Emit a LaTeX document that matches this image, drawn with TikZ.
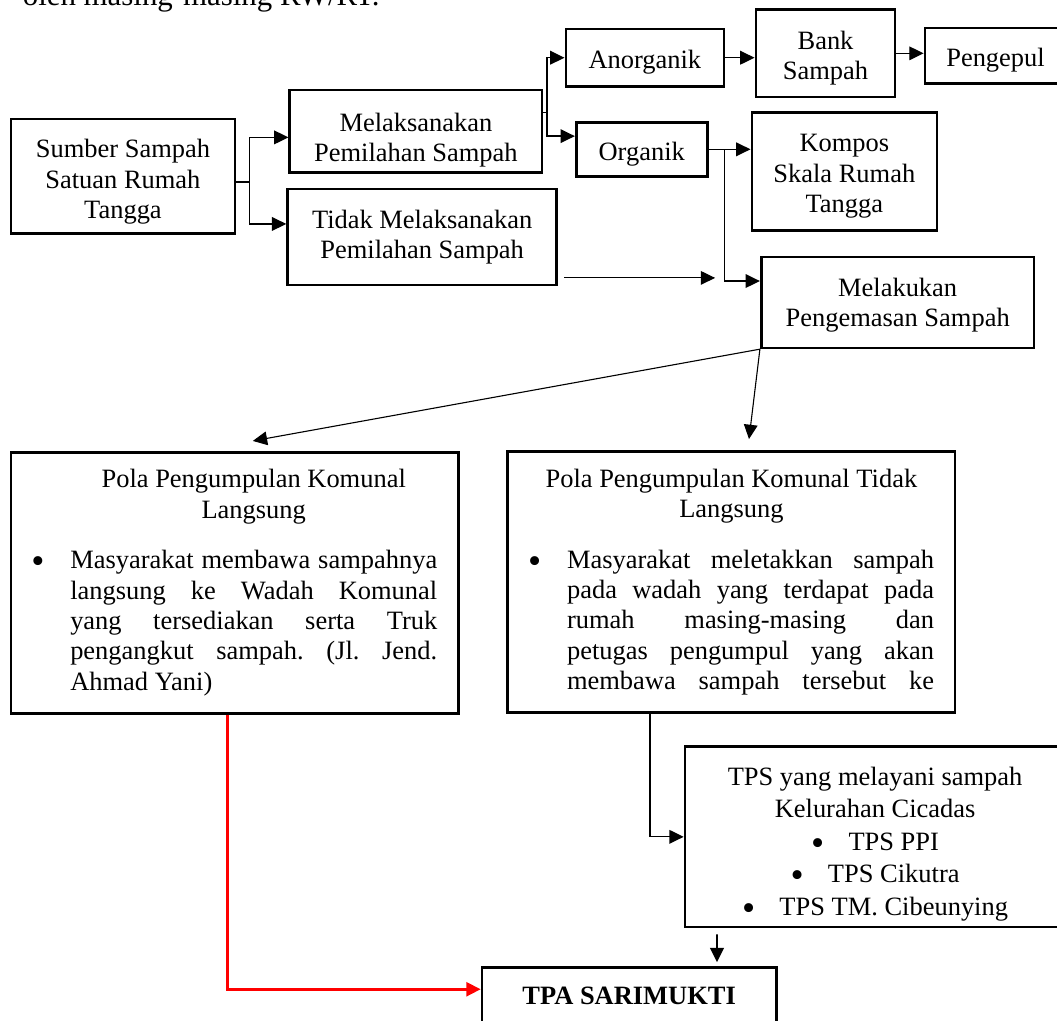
\documentclass[tikz,border=0pt]{standalone}
\usepackage{fontspec}
\setmainfont{Liberation Serif}
\usetikzlibrary{arrows.meta}

\tikzset{
	box/.style={draw, line width=1.2pt, align=center, inner sep=2pt},
	arr/.style={-{Triangle[length=6.5pt, width=6.2pt]}, line width=0.6pt},
	tipis/.style={arr, line width=0.5pt},
	pola/.style={box, minimum width=7.13cm, minimum height=4.16cm, text width=6.46cm, inner xsep=0.335cm, align=justify},
}
\newcommand{\geser}[1]{\rule{0pt}{#1}}
\newcommand{\titik}{\raisebox{-2.3pt}{\fontsize{17pt}{17pt}\selectfont\textbullet}}
\newcommand{\butir}{\noindent\llap{\titik\hspace{0.41cm}}}
\newcommand{\tpsbutir}{\titik\hspace{11pt}}

\begin{document}
\begin{tikzpicture}[font=\fontsize{12pt}{13.8pt}\selectfont]
	\useasboundingbox (0,0) rectangle (16.85,-16.27);
	\node[anchor=base west, font=\fontsize{14pt}{16pt}\selectfont] (judul) at (0.24,-0.08) {oleh masing-masing RW/RT.};

	\node[box, minimum width=3.57cm, minimum height=1.83cm] (sumber) at (1.96,-2.81) {\geser{13.6pt}Sumber Sampah\\Satuan Rumah\\Tangga};
	\node[box, minimum width=4.02cm, minimum height=1.31cm] (melaksanakan) at (6.63,-2.09) {\geser{16.4pt}Melaksanakan\\Pemilahan Sampah};
	\node[box, minimum width=4.29cm, minimum height=1.53cm] (tidak) at (6.73,-3.78) {Tidak Melaksanakan\\Pemilahan Sampah};
	\node[box, minimum width=2.52cm, minimum height=0.91cm] (anorganik) at (10.28,-0.92) {\geser{12pt}Anorganik};
	\node[box, minimum width=2.22cm, minimum height=1.39cm] (bank) at (13.16,-0.85) {\geser{12.6pt}Bank\\Sampah};
	\node[box, minimum width=2.25cm, minimum height=0.89cm] (pengepul) at (15.87,-0.89) {\geser{12pt}Pengepul};
	\node[box, minimum width=2.09cm, minimum height=0.86cm] (organik) at (10.23,-2.38) {\geser{12.6pt}Organik};
	\node[box, minimum width=2.95cm, minimum height=1.88cm] (kompos) at (13.46,-2.73) {\geser{12.6pt}Kompos\\Skala Rumah\\Tangga};
	\node[box, minimum width=4.35cm, minimum height=1.45cm] (melakukan) at (14.31,-4.82) {\geser{11pt}Melakukan\\Pengemasan Sampah};

	\node[pola] (langsung) at (3.74,-9.29) {\parindent=0pt\frenchspacing
		{\leftskip=0.61cm plus 1fil \rightskip=0pt plus 1fil \parfillskip=0pt Pola Pengumpulan Komunal\par Langsung\par}
		\vskip 9pt
		{\leftskip=0.61cm \rightskip=0pt \parfillskip=0pt plus 1fil \butir Masyarakat membawa sampahnya\linebreak langsung ke Wadah Komunal\linebreak yang tersediakan serta Truk\linebreak pengangkut sampah. (Jl. Jend.\linebreak Ahmad Yani)\par}};
	\node[pola] (tidaklangsung) at (11.66,-9.28) {\parindent=0pt\frenchspacing
		{\leftskip=0pt plus 1fil \rightskip=0pt plus 1fil \parfillskip=0pt Pola Pengumpulan Komunal Tidak\par Langsung\par}
		\vskip 9pt
		{\leftskip=0.61cm \rightskip=0pt \parfillskip=0pt \butir Masyarakat meletakkan sampah\linebreak pada wadah yang terdapat pada\linebreak rumah masing-masing dan\linebreak petugas pengumpul yang akan\linebreak membawa sampah tersebut ke\par}};

	\node[box, minimum width=6.06cm, minimum height=2.87cm, font=\fontsize{12pt}{14.7pt}\selectfont] (tps) at (13.95,-13.34) {\geser{14.8pt}TPS yang melayani sampah\\Kelurahan Cicadas\\\tpsbutir TPS PPI\\\tpsbutir TPS Cikutra\\\tpsbutir TPS TM. Cibeunying};
	\node[box, minimum width=4.69cm, minimum height=0.92cm, font=\fontsize{12pt}{13.8pt}\selectfont\bfseries] (tpa) at (10.03,-15.88) {TPA SARIMUKTI};

	\draw[arr] ([yshift=-0.09cm]sumber.east) -- ++(0.21,0) coordinate (cabang1) |- ([yshift=-0.1cm]melaksanakan.west);
	\draw[arr] (cabang1) |- ([yshift=0.21cm]tidak.west);
	\draw[arr] ([yshift=0.3cm]melaksanakan.east) -- ++(0.06,0) coordinate (cabang2) |- (anorganik.west);
	\draw[arr] (cabang2) |- ([yshift=0.21cm]organik.west);
	\draw[arr] (anorganik.east) -- (anorganik.east -| bank.west);
	\draw[arr] (bank.east) -- (bank.east -| pengepul.west);
	\draw[arr] (organik.east) -- (organik.east -| kompos.west);
	\draw[arr] ([xshift=0.25cm]organik.east) |- ([yshift=0.34cm]melakukan.west);
	\coordinate (ujung) at (11.40,-4.43);
	\draw[tipis] ([xshift=0.1cm,yshift=-0.65cm]tidak.east) -- (ujung);
	\draw[tipis] (melakukan.south west) -- ([xshift=0.29cm,yshift=0.16cm]langsung.north);
	\draw[tipis] (melakukan.south west) -- ([xshift=0.28cm,yshift=0.18cm]tidaklangsung.north);
	\draw[arr] ([xshift=-1.30cm]tidaklangsung.south) |- (tps.west);
	\draw[arr, line width=0.8pt] ([xshift=-2.52cm,yshift=-0.1cm]tps.south) -- ([xshift=1.40cm,yshift=0.06cm]tpa.north);
	\draw[arr, red, line width=1.4pt] ([xshift=-0.12cm]langsung.south) |- ([yshift=0.11cm]tpa.west);
\end{tikzpicture}
\end{document}
